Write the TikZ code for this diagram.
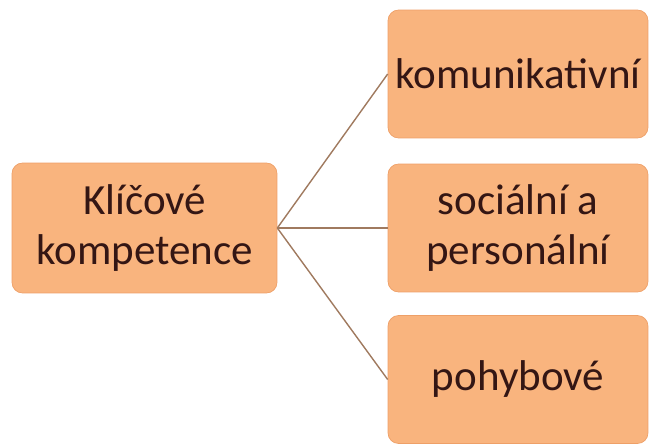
\documentclass[tikz,border=0pt]{standalone}
\usepackage{fontspec}
\setmainfont{Carlito}
\definecolor{boxFill}{RGB}{249,180,126}
\definecolor{boxLine}{RGB}{238,160,104}
\definecolor{edgeColor}{RGB}{160,122,95}
\definecolor{textColor}{RGB}{52,22,20}
\begin{document}
\begin{tikzpicture}[x=0.02cm, y=-0.02cm]

          \tikzstyle{compBox} = [draw=boxLine, fill=boxFill, rounded corners=6pt, align=center,
            text=textColor, font=\fontsize{24.5}{29}\selectfont, inner sep=0pt];
          \tikzstyle{mainBox} = [compBox, minimum width=5.3cm, minimum height=2.6cm];
          \tikzstyle{subBox} = [compBox, minimum width=5.2cm, minimum height=2.56cm];

          \useasboundingbox (0,0) rectangle (649,443);

          \node[mainBox] (k) at (144.5,228) {Klíčové\\kompetence};
          \node[subBox] (kom) at (518,74) {komunikativní};
          \node[subBox] (soc) at (518,228) {sociální a\\personální};
          \node[subBox] (poh) at (518,379.5) {pohybové};

          \draw[edgeColor, thick] (k.east) -- (kom.west);
          \draw[edgeColor, thick] (k.east) -- (soc.west);
          \draw[edgeColor, thick] (k.east) -- (poh.west);
        \end{tikzpicture}
\end{document}
